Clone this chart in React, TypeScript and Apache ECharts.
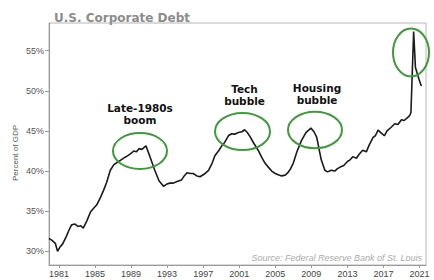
import React, { useEffect, useRef } from "react";
import * as echarts from "echarts";

const years: number[] = [
  1979.9, 1980.2, 1980.6, 1980.85, 1981.1, 1981.4, 1981.8, 1982.1, 1982.4, 1982.8,
  1983.1, 1983.4, 1983.7, 1984.1, 1984.5, 1984.8, 1985.2, 1985.6, 1985.95, 1986.3,
  1986.7, 1987.1, 1987.5, 1987.9, 1988.3, 1988.6, 1989.0, 1989.3, 1989.6, 1989.9,
  1990.2, 1990.65, 1991.1, 1991.6, 1992.1, 1992.6, 1993.0, 1993.3, 1993.7, 1994.1,
  1994.6, 1994.9, 1995.2, 1995.6, 1995.9, 1996.3, 1996.65, 1997.1, 1997.6, 1998.0,
  1998.3, 1998.7, 1999.1, 1999.4, 1999.8, 2000.15, 2000.5, 2000.9, 2001.3, 2001.6,
  2001.9, 2002.2, 2002.6, 2003.1, 2003.5, 2003.85, 2004.3, 2004.6, 2005.0, 2005.4,
  2005.7, 2006.1, 2006.4, 2006.7, 2007.0, 2007.4, 2007.9, 2008.4, 2008.95, 2009.3,
  2009.6, 2009.9, 2010.1, 2010.5, 2010.8, 2011.2, 2011.6, 2011.9, 2012.2, 2012.6,
  2013.0, 2013.3, 2013.6, 2014.0, 2014.3, 2014.7, 2015.1, 2015.4, 2015.85, 2016.1,
  2016.4, 2016.7, 2017.1, 2017.4, 2017.8, 2018.25, 2018.6, 2019.0, 2019.3, 2019.7,
  2019.9, 2020.05, 2020.35, 2020.55, 2020.95, 2021.2,
];

const debtPct: number[] = [
  31.6, 31.4, 31.0, 30.0, 30.5, 30.9, 31.8, 32.6, 33.3, 33.4,
  33.1, 33.2, 32.9, 33.8, 34.9, 35.3, 35.8, 36.7, 37.6, 38.6,
  40.1, 40.8, 41.1, 41.4, 41.7, 41.9, 42.2, 42.5, 42.4, 42.8,
  42.7, 43.15, 41.8, 40.2, 38.8, 38.1, 38.4, 38.5, 38.5, 38.7,
  38.9, 39.4, 39.8, 39.7, 39.7, 39.4, 39.3, 39.6, 40.1, 41.0,
  41.9, 42.5, 43.2, 43.6, 44.4, 44.65, 44.6, 44.8, 44.9, 45.15,
  44.8, 44.3, 43.5, 42.6, 41.7, 41.0, 40.4, 40.0, 39.7, 39.5,
  39.4, 39.5, 39.8, 40.3, 41.0, 42.4, 43.8, 44.8, 45.35, 44.9,
  44.2, 42.5, 41.4, 40.1, 39.9, 40.1, 40.0, 40.3, 40.5, 40.7,
  41.2, 41.4, 41.8, 41.6, 42.1, 42.6, 42.4, 43.2, 44.2, 44.4,
  45.1, 44.8, 44.4, 45.0, 45.4, 45.9, 45.8, 46.4, 46.3, 46.7,
  46.9, 47.3, 57.4, 52.9, 51.4, 50.6,
];

const xTickYears: number[] = [1981, 1985, 1989, 1993, 1997, 2001, 2005, 2009, 2013, 2017, 2021];
const yTickValues: number[] = [30, 35, 40, 45, 50, 55];

const annotationTexts: string[] = ["Late-1980s\nboom", "Tech\nbubble", "Housing\nbubble"];

export default function App() {
  const ref = useRef<HTMLDivElement>(null);

  useEffect(() => {
    if (!ref.current) return;
    const chart = echarts.init(ref.current, undefined, { renderer: "svg" });
    const green = "#3f9a3c";
    const labelStyle = {
      fontFamily: "DejaVu Sans",
      fontWeight: "bold" as const,
      fontSize: 10.5,
      lineHeight: 12,
      fill: "#111",
      align: "center" as const,
      verticalAlign: "middle" as const,
    };
    chart.setOption({
      animation: false,
      backgroundColor: "#fff",
      title: {
        text: "U.S. Corporate Debt",
        left: 49,
        top: 7,
        textStyle: {
          fontFamily: "DejaVu Sans",
          fontWeight: "bold",
          fontSize: 12,
          color: "#8c8c8c",
        },
      },
      grid: { left: 49, right: 8, top: 23, bottom: 15, show: true, borderColor: "#b5b5b5", borderWidth: 1, containLabel: false },
      xAxis: {
        type: "value",
        min: 1979.9,
        max: 2021.72,
        splitLine: { show: false },
        axisLine: { show: true, lineStyle: { color: "#9a9a9a" } },
        axisTick: { show: true, length: 3, customValues: xTickYears, lineStyle: { color: "#9a9a9a" } },
        axisLabel: {
          customValues: xTickYears,
          formatter: (v: number) => String(Math.round(v)),
          fontFamily: "Liberation Sans",
          fontSize: 9,
          color: "#444",
          margin: 4,
        },
      },
      yAxis: {
        type: "value",
        min: 28.3,
        max: 58.45,
        splitLine: { show: false },
        axisLine: { show: true, lineStyle: { color: "#9a9a9a" } },
        axisTick: { show: true, length: 4, customValues: yTickValues, lineStyle: { color: "#9a9a9a" } },
        axisLabel: {
          customValues: yTickValues,
          formatter: (v: number) => `${Math.round(v)}%`,
          fontFamily: "Liberation Sans",
          fontSize: 9,
          color: "#555",
          margin: 5,
        },
      },
      series: [
        {
          type: "line",
          data: years.map((y, i) => [y, debtPct[i]]),
          showSymbol: false,
          lineStyle: { color: "#1a1a1a", width: 1.6 },
          z: 3,
        },
      ],
      graphic: [
        { type: "ellipse", shape: { cx: 140, cy: 151, rx: 27, ry: 18 }, style: { fill: "none", stroke: green, lineWidth: 2 }, z: 10 },
        { type: "ellipse", shape: { cx: 242.5, cy: 131.5, rx: 27.5, ry: 18.5 }, style: { fill: "none", stroke: green, lineWidth: 2 }, z: 10 },
        { type: "ellipse", shape: { cx: 315, cy: 130, rx: 27, ry: 18.3 }, style: { fill: "none", stroke: green, lineWidth: 2 }, z: 10 },
        { type: "ellipse", shape: { cx: 411, cy: 52.5, rx: 18, ry: 24 }, style: { fill: "none", stroke: green, lineWidth: 2 }, z: 10 },
        { type: "text", x: 140, y: 114, style: { ...labelStyle, text: annotationTexts[0] }, z: 10 },
        { type: "text", x: 244.5, y: 95, style: { ...labelStyle, text: annotationTexts[1] }, z: 10 },
        { type: "text", x: 317, y: 94, style: { ...labelStyle, text: annotationTexts[2] }, z: 10 },
        {
          type: "text",
          x: 15,
          y: 153,
          rotation: Math.PI / 2,
          style: {
            text: "Percent of GDP",
            fontFamily: "Liberation Sans",
            fontSize: 8,
            fill: "#555",
            align: "center",
            verticalAlign: "middle",
          },
          z: 10,
        },
        {
          type: "text",
          x: 422,
          y: 258,
          style: {
            text: "Source: Federal Reserve Bank of St. Louis",
            fontFamily: "Liberation Sans",
            fontStyle: "italic",
            fontSize: 9,
            fill: "#aaaaaa",
            align: "right",
            verticalAlign: "middle",
          },
          z: 10,
        },
      ],
    });
    return () => chart.dispose();
  }, []);

  return <div ref={ref} style={{ width: 434, height: 280, position: "absolute", left: 0, top: 0 }} />;
}
